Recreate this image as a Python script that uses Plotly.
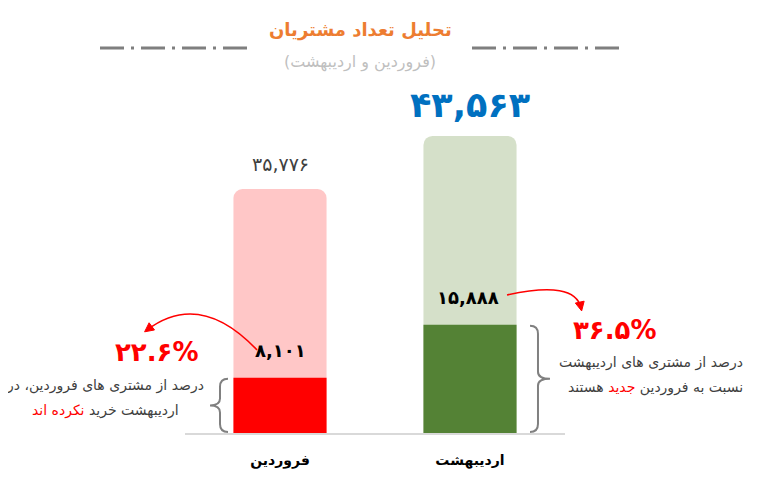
import plotly.graph_objects as go

# ---------------- data ----------------
months = ["فروردین", "اردیبهشت"]
total_customers = [35776, 43563]
highlight_customers = [8101, 15888]   # فروردین: خرید نکرده اند / اردیبهشت: جدید

title_text = "تحلیل تعداد مشتریان"
subtitle_text = "(فروردین و اردیبهشت)"
left_caption = ["درصد از مشتری های فروردین، در",
                "اردیبهشت خرید <span style='color:#FF0000'>نکرده اند</span>"]
right_caption = ["درصد از مشتری های اردیبهشت",
                 "نسبت به فروردین <span style='color:#FF0000'>جدید</span> هستند"]

# ---------------- styles ----------------
light_colors = ["#FFC7C7", "#D5E0C9"]
dark_colors = ["#FF0000", "#548235"]
FONT = "DejaVu Sans"
W, H = 764, 481
OFF = 8  # page offset of the figure inside the browser window
L, R, T, B = 177, 207, 82, 56
PW, PH = W - L - R, H - T - B
YMAX = 50300

FA = str.maketrans("0123456789", "۰۱۲۳۴۵۶۷۸۹")


def fa(s):
    return str(s).translate(FA)


def px(x, y):
    """window pixel -> paper coordinates (for decorations)"""
    return (x - OFF - L) / PW, (H - B - (y - OFF)) / PH


def ypx(v):
    return H - B - v / YMAX * PH + OFF


def path_from(points_cmds):
    out = []
    for cmd, pts in points_cmds:
        s = cmd
        for (x, y) in pts:
            a, b = px(x, y)
            s += f" {a:.4f},{b:.4f}"
        out.append(s)
    return " ".join(out)


fig = go.Figure()
fig.add_trace(go.Bar(x=months, y=total_customers, marker=dict(color=light_colors, line_width=0, cornerradius=9),
                     width=0.49, hoverinfo="skip"))
fig.add_trace(go.Bar(x=months, y=highlight_customers, marker=dict(color=dark_colors, line_width=0, cornerradius=6),
                     width=0.49, hoverinfo="skip"))

ann = []


def pann(x, y, text, font, xanchor="center"):
    a, b = px(x, y)
    ann.append(dict(x=a, y=b, xref="paper", yref="paper", xanchor=xanchor, yanchor="middle",
                    text=text, showarrow=False, font=font))


# title and subtitle
pann(360, 30, f"<b>{title_text}</b>", dict(family=FONT, size=18, color="#ED7D31"))
pann(360, 62, subtitle_text, dict(family=FONT, size=16, color="#BFBFBF"))

# total labels
ann.append(dict(x=months[0], y=total_customers[0], text=fa(f"{total_customers[0]:,}"), showarrow=False,
                xanchor="center", yanchor="middle",
                yshift=25, font=dict(family=FONT, size=19, color="#404040")))
ann.append(dict(x=months[1], y=total_customers[1], text=f"<b>{fa(f'{total_customers[1]:,}')}</b>", showarrow=False,
                xanchor="center", yanchor="middle",
                yshift=31, font=dict(family=FONT, size=35, color="#0070C0")))
# highlight labels
for i in range(2):
    ann.append(dict(x=months[i], y=highlight_customers[i], text=f"<b>{fa(f'{highlight_customers[i]:,}')}</b>",
                    showarrow=False, yshift=27, xshift=0 if i == 0 else -2, xanchor="center", yanchor="middle",
                    font=dict(family=FONT, size=18, color="#000000")))

# percentages
pct = [h / t * 100 for h, t in zip(highlight_customers, total_customers)]
for (xx, yy), p in zip([(157, 352), (615, 330)], pct):
    pann(xx, yy, f"<b>{fa(f'{p:.1f}')}%</b>", dict(family=FONT, size=26, color="#FF0000"))

# captions (one annotation per line for the wider line spacing)
cap_font = dict(family=FONT, size=14, color="#404040")
for k, line in enumerate(left_caption):
    pann(105, 385 + 25 * k, line, cap_font)
for k, line in enumerate(right_caption):
    pann(745, 362 + 25 * k, line, cap_font, xanchor="right")

shapes = []
# dash-dot lines beside the title
for x0, x1 in [(100, 250), (472, 622)]:
    a0, b0 = px(x0, 48)
    a1, b1 = px(x1, 48)
    shapes.append(dict(type="line", xref="paper", yref="paper", x0=a0, y0=b0, x1=a1, y1=b1,
                       line=dict(color="#7F7F7F", width=3, dash="24px,7px,3px,7px")))

# braces (span from baseline to highlight value)
base = ypx(0)
top0 = ypx(highlight_customers[0])
mid0 = (top0 + base) / 2
xl, xt = 220, 210
shapes.append(dict(type="path", xref="paper", yref="paper", line=dict(color="#808080", width=2),
                   path=path_from([("M", [(xl + 8, top0 + 1)]), ("Q", [(xl, top0 + 1), (xl, top0 + 9)]),
                                   ("L", [(xl, mid0 - 7)]), ("Q", [(xl, mid0), (xt, mid0)]),
                                   ("Q", [(xl, mid0), (xl, mid0 + 7)]), ("L", [(xl, base - 9)]),
                                   ("Q", [(xl, base - 1), (xl + 8, base - 1)])])))
top1 = ypx(highlight_customers[1])
mid1 = (top1 + base) / 2
xr, xrt = 538, 550
shapes.append(dict(type="path", xref="paper", yref="paper", line=dict(color="#808080", width=2),
                   path=path_from([("M", [(xr - 8, top1 + 1)]), ("Q", [(xr, top1 + 1), (xr, top1 + 9)]),
                                   ("L", [(xr, mid1 - 7)]), ("Q", [(xr, mid1), (xrt, mid1)]),
                                   ("Q", [(xr, mid1), (xr, mid1 + 7)]), ("L", [(xr, base - 9)]),
                                   ("Q", [(xr, base - 1), (xr - 8, base - 1)])])))


# curved arrows
def arrow(start, ctrl, end, size=9):
    shapes.append(dict(type="path", xref="paper", yref="paper", line=dict(color="#FF0000", width=1.6),
                       path=path_from([("M", [start]), ("Q", [ctrl, end])])))
    dx, dy = end[0] - ctrl[0], end[1] - ctrl[1]
    n = (dx * dx + dy * dy) ** 0.5
    ux, uy = dx / n, dy / n
    tip = (end[0] + ux * 3, end[1] + uy * 3)
    bx, by = tip[0] - ux * size, tip[1] - uy * size
    pxv, pyv = -uy, ux
    p1 = (bx + pxv * size * 0.5, by + pyv * size * 0.5)
    p2 = (bx - pxv * size * 0.5, by - pyv * size * 0.5)
    shapes.append(dict(type="path", xref="paper", yref="paper", line=dict(color="#FF0000", width=1),
                       fillcolor="#FF0000", path=path_from([("M", [tip]), ("L", [p1]), ("L", [p2])]) + " Z"))


arrow((257, 350), (200, 290), (147, 330))
arrow((507, 295), (575, 280), (581, 308))

fig.update_layout(
    width=W, height=H, margin=dict(l=L, r=R, t=T, b=B, autoexpand=False),
    barmode="overlay", showlegend=False,
    plot_bgcolor="white", paper_bgcolor="white",
    font=dict(family=FONT),
    xaxis=dict(range=[-0.5, 1.5], showline=True, linecolor="#D9D9D9", linewidth=2, showgrid=False,
               zeroline=False, ticks="", ticklabelstandoff=13,
               tickfont=dict(family=FONT, size=14, color="#000000"),
               tickmode="array", tickvals=months, ticktext=[f"<b>{m}</b>" for m in months]),
    yaxis=dict(range=[0, YMAX], visible=False),
    annotations=ann, shapes=shapes,
)

fig.write_html("out.html")
